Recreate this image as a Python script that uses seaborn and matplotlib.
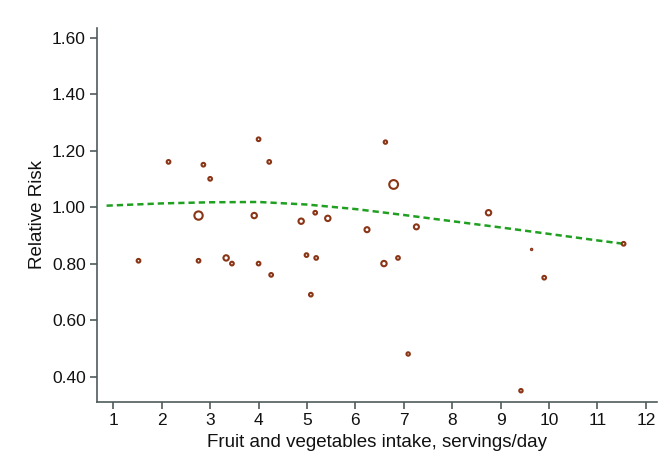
import pandas as pd
import seaborn as sns
import matplotlib.pyplot as plt

# study estimates: intake (servings/day), relative risk, relative weight
intake = [4.00, 2.14, 2.86, 4.22, 3.00, 2.76, 3.91, 4.88, 5.17, 5.43,
          1.52, 2.76, 3.33, 3.45, 4.00, 4.26, 4.99, 5.19, 5.08, 6.62,
          6.79, 8.75, 6.24, 7.26, 6.59, 6.88, 7.09, 9.64, 9.90, 11.54, 9.42]
rel_risk = [1.24, 1.16, 1.15, 1.16, 1.10, 0.97, 0.97, 0.95, 0.98, 0.96,
            0.81, 0.81, 0.82, 0.80, 0.80, 0.76, 0.83, 0.82, 0.69, 1.23,
            1.08, 0.98, 0.92, 0.93, 0.80, 0.82, 0.48, 0.85, 0.75, 0.87, 0.35]
weight = [7, 7, 7, 7, 7, 36, 15, 15, 7, 15,
          7, 7, 15, 7, 7, 7, 7, 7, 7, 6,
          40, 15, 13, 13, 15, 7, 6, 1, 7, 7, 6]

# fitted dose-response curve
curve_x = [0.86, 2, 3, 4, 5, 6, 7, 8, 9, 10, 11, 11.54]
curve_rr = [1.005, 1.013, 1.017, 1.018, 1.009, 0.993, 0.972, 0.950, 0.928, 0.905, 0.882, 0.870]

studies = pd.DataFrame({"intake": intake, "rr": rel_risk, "w": weight})
curve = pd.DataFrame({"x": curve_x, "rr": curve_rr})

sns.set_style("white")
plt.rcParams["font.family"] = ["Liberation Sans", "DejaVu Sans"]

fig = plt.figure(figsize=(6.7, 4.71), dpi=100)
ax = fig.add_axes([0.1448, 0.1465, 0.8358, 0.7941])

sns.lineplot(data=curve, x="x", y="rr", ax=ax, color="#20a020",
             linewidth=1.8, dashes=False, linestyle=(0, (2.5, 1.6)))
sns.scatterplot(data=studies, x="intake", y="rr", size="w", sizes=(1, 40),
                size_norm=(1, 40), legend=False, ax=ax,
                facecolor="white", edgecolor="#8a3516", linewidth=1.5, zorder=3)

ax.set_xlim(0.663, 12.23)
ax.set_ylim(0.31, 1.634)
ax.set_xticks(range(1, 13))
ax.set_yticks([0.4, 0.6, 0.8, 1.0, 1.2, 1.4, 1.6])
ax.set_yticklabels([f"{v:.2f}" for v in ax.get_yticks()])

sns.despine(ax=ax)
for side in ["left", "bottom"]:
    ax.spines[side].set_color("#4f5b5b")
    ax.spines[side].set_linewidth(1.2)
ax.tick_params(axis="both", direction="out", length=5, width=1.2,
               color="#4f5b5b", labelsize=12.5, labelcolor="#111111",
               left=True, bottom=True, pad=3)

ax.set_xlabel("Fruit and vegetables intake, servings/day", fontsize=13.5,
              color="#111111", labelpad=4)
ax.set_ylabel("Relative Risk", fontsize=13.5, color="#111111", labelpad=4)

plt.savefig("out.png", dpi=100)
plt.close()
